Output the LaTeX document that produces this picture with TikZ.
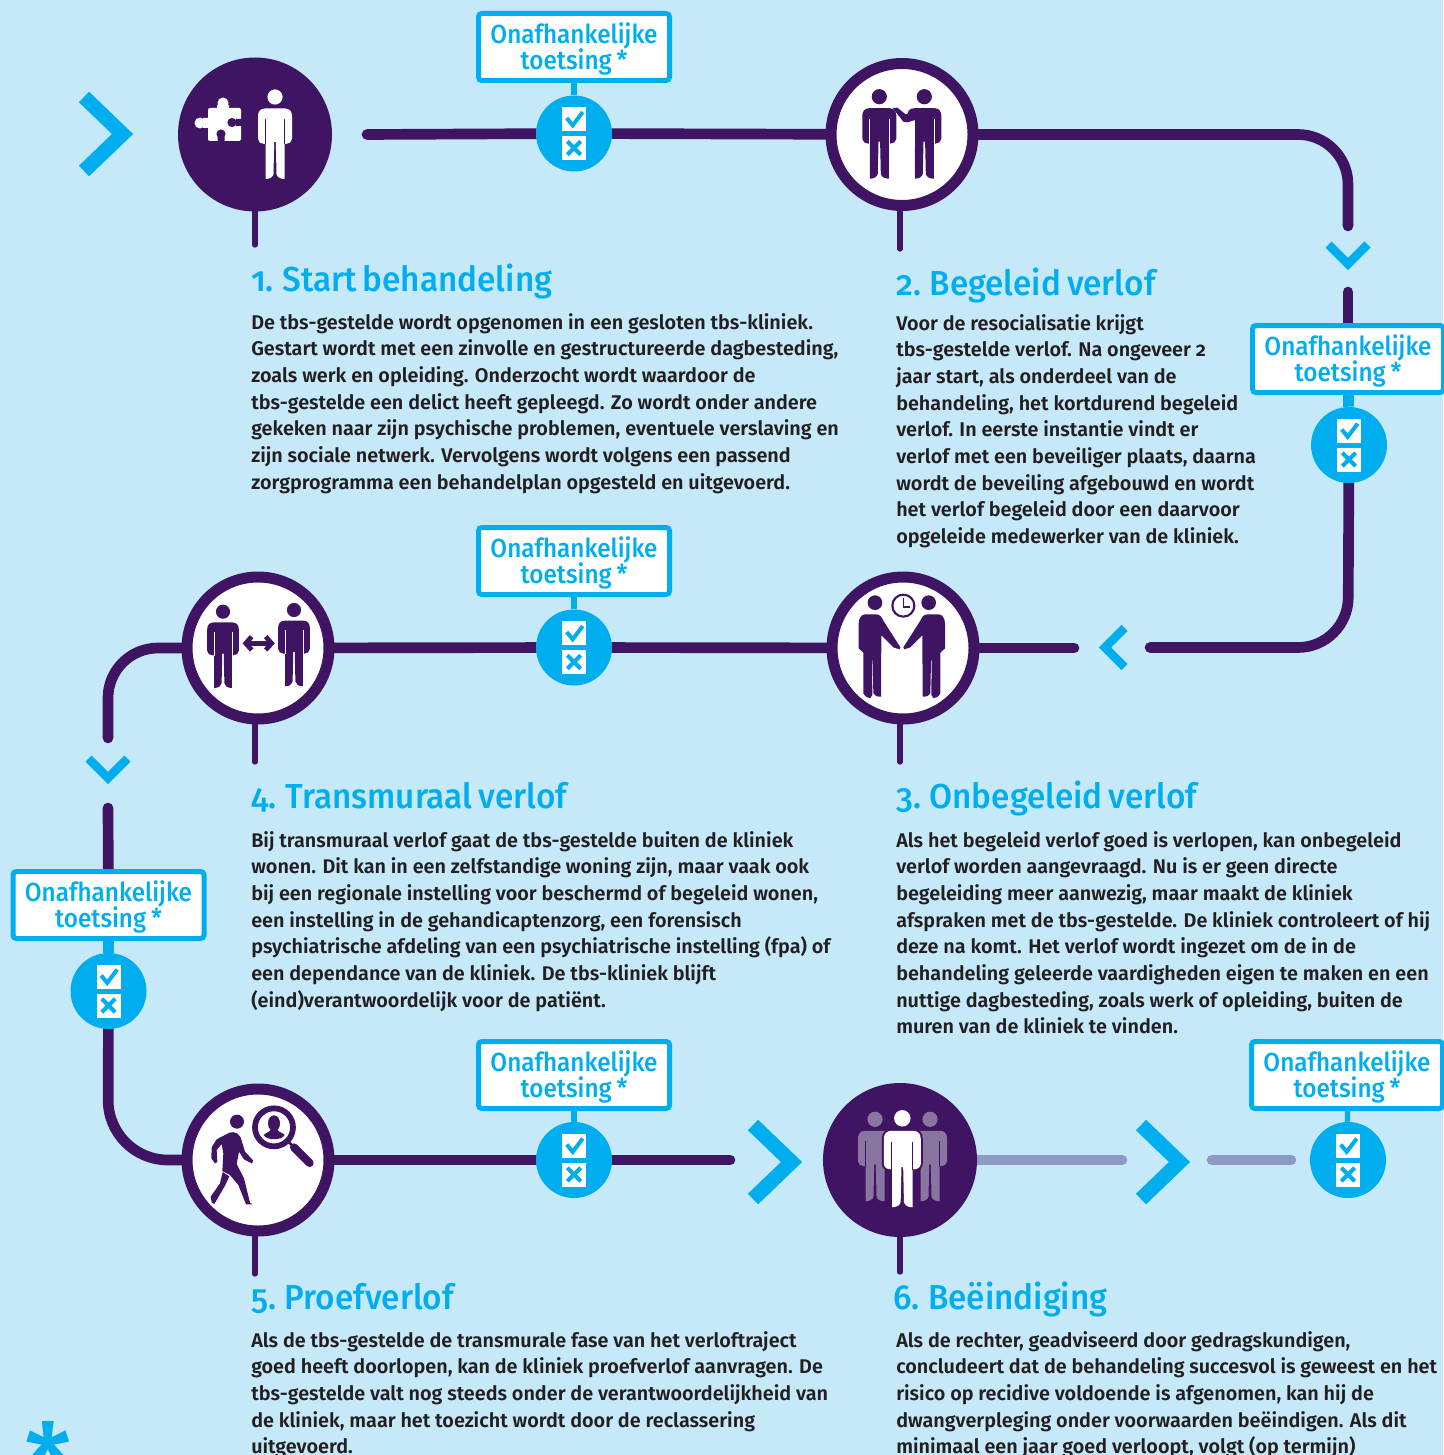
\documentclass[tikz,border=0pt]{standalone}
\usepackage{fontspec}
\usetikzlibrary{backgrounds}
\setmainfont{Fira Sans}[Numbers=OldStyle]
\newfontfamily\bodyfont{Fira Sans SemiBold}[Numbers=OldStyle]
\newfontfamily\headfont{Fira Sans Medium}[Numbers=OldStyle,FakeStretch=.96,WordSpace=.7]
\newfontfamily\boxfont{Fira Sans Medium}[Numbers=OldStyle,FakeStretch=.93,WordSpace=.8]
\definecolor{bgblue}{HTML}{C6E9FA}
\definecolor{tbspurple}{HTML}{3F1563}
\definecolor{tbscyan}{HTML}{00AEEF}
\definecolor{tbsgrey}{HTML}{8E9AC2}
\definecolor{tbsmauve}{HTML}{89759F}
\definecolor{tbstext}{HTML}{231F20}
\tikzset{
  solidstep/.style={circle,fill=tbspurple,inner sep=0pt,minimum size=115.5pt},
  ringstep/.style={circle,draw=tbspurple,fill=white,line width=8.25pt,inner sep=0pt,minimum size=106.5pt},
  mainline/.style={draw=tbspurple,line width=8pt,line cap=round},
  fadeline/.style={draw=tbsgrey,line width=8pt,line cap=round},
  stem/.style={draw=tbspurple,line width=4pt,line cap=round},
  bluethin/.style={draw=tbscyan,line width=4pt},
  bluethick/.style={draw=tbscyan,line width=8pt},
  chev/.style={draw=tbscyan,line width=6.4pt,miter limit=10},
  bigchev/.style={draw=tbscyan,line width=11pt,miter limit=10},
  checkdot/.style={circle,fill=tbscyan,inner sep=0pt,minimum size=57pt},
  squarebox/.style={rectangle,fill=white,inner sep=0pt,minimum size=18pt},
  reviewbox/.style={rectangle,draw=tbscyan,fill=white,line width=3.75pt,rounded corners=2.5pt,
    minimum width=143.25pt,minimum height=50.25pt,inner sep=0pt,align=center,text=tbscyan,
    font=\boxfont\fontsize{19.6}{18.75}\selectfont},
  stephead/.style={anchor=base west,inner sep=0pt,text=tbscyan,font=\headfont\fontsize{26}{30}\selectfont},
  stepbody/.style={anchor=north west,inner sep=0pt,align=left,text=tbstext,font=\bodyfont\fontsize{14.85}{20}\selectfont},
}
\newcommand{\reviewtext}{\lineskiplimit=-20pt\relax\rule{0pt}{18pt}Onafhankelijke\\[-1.2pt]toetsing *}
% person: origin at the head centre, coordinates in reference pixels
\newcommand{\personfig}[5]{%
 \begin{scope}[shift={(#1,#2)},scale=#3]
  \fill[#4] (0,0) circle (7.6);
  \fill[#4] (-10,11.5) -- (10,11.5) .. controls (15,11.5) and (17,15) .. (17,19) -- (17,42)
    .. controls (17,45) and (14,47) .. (11,47) -- (9.5,47) -- (9.5,82)
    .. controls (5,82) and (2,80) .. (1.5,77) -- (0.8,45) -- (-0.8,45) -- (-1.5,77)
    .. controls (-2,80) and (-5,82) .. (-9.5,82) -- (-9.5,47) -- (-11,47)
    .. controls (-14,47) and (-17,45) .. (-17,42) -- (-17,19)
    .. controls (-17,15) and (-15,11.5) .. (-10,11.5) -- cycle;
  \draw[#5,line width=.6pt] (-9.7,22) -- (-9.7,47.5) (9.7,22) -- (9.7,47.5);
 \end{scope}}
\newcommand{\checkfig}[3]{%
 \node[checkdot] (#1) at (#2,#3) {};
 \node[squarebox] (#1yes) at (#2,#3-14.5) {};
 \node[squarebox] (#1no) at (#2,#3+14.5) {};
 \begin{scope}[shift={(#2,#3)}]
  \draw[tbscyan,line width=3pt] (-7.3,-15.5) -- (-1.3,-8.2) -- (8.7,-21.5);
  \draw[tbscyan,line width=3pt] (-6.7,7.8) -- (6.7,21.2) (6.7,7.8) -- (-6.7,21.2);
 \end{scope}}
\begin{document}
\begin{tikzpicture}[x=.75pt,y=-.75pt]
\useasboundingbox (0,0) rectangle (1443,1455);
\begin{scope}[on background layer]
 \fill[bgblue] (0,0) rectangle (1443,1455);
\end{scope}
% steps
\node[solidstep] (n1) at (255,134.5) {};
\node[ringstep] (n2) at (902,134.5) {};
\node[ringstep] (n3) at (903,648) {};
\node[ringstep] (n4) at (258,648) {};
\node[ringstep] (n5) at (258,1160) {};
\node[solidstep] (n6) at (900,1160) {};
% checks
\checkfig{c1}{574}{133.5}
\checkfig{c2}{1349}{445}
\checkfig{c3}{574}{647.5}
\checkfig{c4}{108.5}{991}
\checkfig{c5}{574}{1160}
\checkfig{c6}{1348}{1160}
% boxes
\node[reviewbox] (b1) at (574,47) {\reviewtext};
\node[reviewbox] (b2) at (1348,359) {\reviewtext};
\node[reviewbox] (b3) at (574,561) {\reviewtext};
\node[reviewbox] (b4) at (108.5,905) {\reviewtext};
\node[reviewbox] (b5) at (574,1075) {\reviewtext};
\node[reviewbox] (b6) at (1347,1075) {\reviewtext};
% free ends
\coordinate (s1) at (367,134.5);
\coordinate (r1) at (1348,134.5);
\coordinate (e2) at (1348,226);
\coordinate (s3) at (1348,292);
\coordinate (r3) at (1348,647.5);
\coordinate (e3) at (1150,647.5);
\coordinate (s3b) at (1074,648);
\coordinate (r4) at (108,648);
\coordinate (e4) at (108,738);
\coordinate (s5) at (108,808);
\coordinate (r5) at (108,1160);
\coordinate (e5) at (730,1160);
\coordinate (e6a) at (1122,1160);
\coordinate (s6b) at (1212,1160);
\coordinate (e6b) at (1291,1160);
\coordinate (t1) at (255,245);
\coordinate (t2) at (900,249);
\coordinate (t3) at (900,762);
\coordinate (t4) at (255,762);
\coordinate (t5) at (255,1274);
\coordinate (t6) at (900,1272);
\begin{scope}[on background layer]
 \draw[mainline] (s1) -- (c1);
 \draw[mainline] (c1) -- (n2);
 \draw[mainline,rounded corners=37.5pt] (n2) -- (r1) -- (e2);
 \draw[mainline] (s3) -- (b2);
 \draw[mainline,rounded corners=37.5pt] (c2) -- (r3) -- (e3);
 \draw[mainline] (n3) -- (s3b);
 \draw[mainline] (n3) -- (c3);
 \draw[mainline] (c3) -- (n4);
 \draw[mainline,rounded corners=37.5pt] (n4) -- (r4) -- (e4);
 \draw[mainline] (s5) -- (b4);
 \draw[mainline,rounded corners=45pt] (c4) -- (r5) -- (n5);
 \draw[mainline] (n5) -- (c5);
 \draw[mainline] (c5) -- (e5);
 \draw[fadeline] (n6) -- (e6a);
 \draw[fadeline] (s6b) -- (e6b);
 \draw[bluethin] (b1) -- (c1);
 \draw[bluethick] (b2) -- (c2);
 \draw[bluethin] (b3) -- (c3);
 \draw[bluethick] (b4) -- (c4);
 \draw[bluethin] (b5) -- (c5);
 \draw[bluethin] (b6) -- (c6);
 \draw[stem] (n1) -- (t1);
 \draw[stem] (n2.south -| t2) -- (t2);
 \draw[stem] (n3.south -| t3) -- (t3);
 \draw[stem] (n4.south -| t4) -- (t4);
 \draw[stem] (n5.south -| t5) -- (t5);
 \draw[stem] (n6) -- (t6);
\end{scope}
% chevrons
\draw[bigchev] (84,97) -- (122.5,134) -- (84,171);
\draw[bigchev] (753,1125) -- (791.5,1162) -- (753,1199);
\draw[bigchev] (1141,1125) -- (1179.5,1162) -- (1141,1199);
\draw[chev] (1328.5,244.5) -- (1348,264) -- (1367.5,244.5);
\draw[chev] (88.5,758.5) -- (108,778) -- (127.5,758.5);
\draw[chev] (1124.5,628) -- (1105,647.5) -- (1124.5,667);
% icon 1
\personfig{275}{97}{1}{white}{tbspurple}
\begin{scope}
 \fill[white,rounded corners=1.5pt] (208,108) rectangle (241,141);
 \fill[white] (223,103) circle (5.5) (200,123) circle (5.5);
 \fill[white] (217,105) rectangle (229,110) (203,118) rectangle (209,128);
 \fill[tbspurple] (232,122.5) circle (4.6) (221,134) circle (4.6);
 \fill[tbspurple] (236,119) rectangle (242,126) (217.5,137) rectangle (224.5,142);
\end{scope}
% icon 2
\personfig{879.3}{96.7}{1}{tbspurple}{white}
\personfig{924.3}{96.7}{1}{tbspurple}{white}
\begin{scope}[shift={(810,40)},scale=1/3]
 \fill[white] (290,220) rectangle (315.5,320);
 \fill[tbspurple] (248,204) -- (262,203) -- (288,224) -- (312,206) -- (325,206) -- (315.5,240) -- (292,247) -- (280,245) -- cycle;
\end{scope}
% icon 3
\begin{scope}[shift={(810,560)},scale=1/3]
 \fill[tbspurple] (195,128) circle (22) (356,128) circle (22);
 \draw[tbspurple,line width=1.6pt] (280,137) circle (33);
 \draw[tbspurple,line width=1pt] (280,113) -- (280,141) -- (300,141);
 \foreach \mx/\sc in {0/1,551/-1}{
 \begin{scope}[shift={(\mx,0)},xscale=\sc]
  \fill[tbspurple] (165,163) -- (198,163) .. controls (210,163) and (216,172) .. (220,182) -- (271,262) -- (268,268) -- (250,262) -- (214,226) -- (213,410)
    .. controls (202,410) and (193,408) .. (190,400) -- (188,300) -- (186,300) -- (187,405) -- (180,415)
    .. controls (170,410) and (162,410) .. (160,400) -- (160,278) -- (146,265) -- (146,190) .. controls (146,175) and (155,163) .. (165,163) -- cycle;
 \end{scope}}
\end{scope}
% icon 4
\personfig{223}{611.7}{.93}{tbspurple}{white}
\personfig{294}{610}{.93}{tbspurple}{white}
\begin{scope}[shift={(170,560)},scale=1/3]
 \draw[tbspurple,line width=3.5pt] (232,250) -- (298,250);
 \draw[tbspurple,line width=3.5pt,line join=miter] (245,230) -- (227,250) -- (245,270);
 \draw[tbspurple,line width=3.5pt,line join=miter] (287,230) -- (305,250) -- (287,270);
\end{scope}
% icon 5
\begin{scope}[shift={(170,1070)},scale=1/3]
 \fill[tbspurple] (201,155) circle (21);
 \fill[tbspurple] (178,188) .. controls (195,183) and (210,190) .. (215,212) -- (225,245) -- (250,272) -- (245,280) -- (222,268) -- (207,245) -- (200,282)
   -- (222,325) -- (240,398) -- (247,403) -- (228,403) -- (205,345) -- (180,315) -- (157,303) -- (160,250) -- (155,222) -- (140,240) -- (142,276) -- (135,280) -- (124,265) -- (125,232) -- (140,208) -- cycle;
 \fill[tbspurple] (158,306) -- (178,319) -- (165,347) -- (133,402) -- (125,397) -- (122,380) -- (150,340) -- cycle;
 \draw[tbspurple,line width=4.3pt] (312,172) circle (57);
 \fill[tbspurple] (312,160) ellipse (18 and 24);
 \fill[tbspurple] (281,195) .. controls (290,185) and (300,188) .. (304,176) -- (320,176) .. controls (325,188) and (335,185) .. (344,195) .. controls (335,212) and (290,212) .. (281,195) -- cycle;
 \draw[tbspurple,line width=2pt] (350,210) -- (372,232);
 \draw[tbspurple,line width=6pt,line cap=round] (372,232) -- (419,279);
\end{scope}
% icon 6
\personfig{875}{1119.3}{1}{tbsmauve}{tbspurple}
\personfig{930}{1119.3}{1}{tbsmauve}{tbspurple}
\personfig{902.3}{1118.3}{1.085}{tbspurple,draw=tbspurple,line width=3pt}{tbspurple}
\personfig{902.3}{1118.3}{1.085}{white}{tbspurple}
% headings
\node[stephead] (h1) at (251,291.5) {1. Start behandeling};
\node[stephead] (h2) at (896,295.5) {2. Begeleid verlof};
\node[stephead] (h3) at (896,808.5) {3. Onbegeleid verlof};
\node[stephead] (h4) at (251,808.5) {4. Transmuraal verlof};
\node[stephead] (h5) at (251,1309) {5. Proefverlof};
\node[stephead] (h6) at (893,1309) {6. Beëindiging};
% bodies: first baseline = top + 14pt (18.67 px)
\node[stepbody] (p1) at (251,310.3) {\strut De tbs-gestelde wordt opgenomen in een gesloten tbs-kliniek.\\
Gestart wordt met een zinvolle en gestructureerde dagbesteding,\\
zoals werk en opleiding. Onderzocht wordt waardoor de\\
tbs-gestelde een delict heeft gepleegd. Zo wordt onder andere\\
gekeken naar zijn psychische problemen, eventuele verslaving en\\
zijn sociale netwerk. Vervolgens wordt volgens een passend\\
zorgprogramma een behandelplan opgesteld en uitgevoerd.};
\node[stepbody] (p2) at (896,311.3) {\strut Voor de resocialisatie krijgt\\
tbs-gestelde verlof. Na ongeveer 2\\
jaar start, als onderdeel van de\\
behandeling, het kortdurend begeleid\\
verlof. In eerste instantie vindt er\\
verlof met een beveiliger plaats, daarna\\
wordt de beveiling afgebouwd en wordt\\
het verlof begeleid door een daarvoor\\
opgeleide medewerker van de kliniek.};
\node[stepbody] (p3) at (896,828.3) {\strut Als het begeleid verlof goed is verlopen, kan onbegeleid\\
verlof worden aangevraagd. Nu is er geen directe\\
begeleiding meer aanwezig, maar maakt de kliniek\\
afspraken met de tbs-gestelde. De kliniek controleert of hij\\
deze na komt. Het verlof wordt ingezet om de in de\\
behandeling geleerde vaardigheden eigen te maken en een\\
nuttige dagbesteding, zoals werk of opleiding, buiten de\\
muren van de kliniek te vinden.};
\node[stepbody] (p4) at (251,828.3) {\strut Bij transmuraal verlof gaat de tbs-gestelde buiten de kliniek\\
wonen. Dit kan in een zelfstandige woning zijn, maar vaak ook\\
bij een regionale instelling voor beschermd of begeleid wonen,\\
een instelling in de gehandicaptenzorg, een forensisch\\
psychiatrische afdeling van een psychiatrische instelling (fpa) of\\
een dependance van de kliniek. De tbs-kliniek blijft\\
(eind)verantwoordelijk voor de patiënt.};
\node[stepbody] (p5) at (251,1328.3) {\strut Als de tbs-gestelde de transmurale fase van het verloftraject\\
goed heeft doorlopen, kan de kliniek proefverlof aanvragen. De\\
tbs-gestelde valt nog steeds onder de verantwoordelijkheid van\\
de kliniek, maar het toezicht wordt door de reclassering\\
uitgevoerd.};
\node[stepbody] (p6) at (896,1328.3) {\strut Als de rechter, geadviseerd door gedragskundigen,\\
concludeert dat de behandeling succesvol is geweest en het\\
risico op recidive voldoende is afgenomen, kan hij de\\
dwangverpleging onder voorwaarden beëindigen. Als dit\\
minimaal een jaar goed verloopt, volgt (op termijn)};
% footnote mark
\node[anchor=base,inner sep=0pt,text=tbscyan,font=\headfont\fontsize{80}{80}\selectfont] (star) at (48,1500) {*};
\end{tikzpicture}
\end{document}
